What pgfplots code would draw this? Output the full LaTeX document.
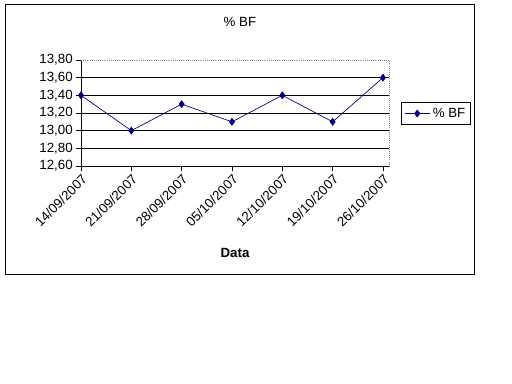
\documentclass[border=0pt]{standalone}
\usepackage{pgfplots}
\pgfplotsset{compat=1.18}
\usepackage{fontspec}
\setmainfont{Liberation Sans}
\definecolor{navyline}{RGB}{0,0,128}
\begin{document}
\begin{tikzpicture}
\path[use as bounding box] (0,0) rectangle (384pt,288pt);
\draw[black, line width=0.75pt] (3.75pt,81.75pt) rectangle (355.5pt,284.25pt);
\begin{axis}[
  at={(60.75pt,163.5pt)}, anchor=south west,
  scale only axis, width=231pt, height=79.5pt,
  xmin=0, xmax=6.12, ymin=12.6, ymax=13.8,
  axis x line*=bottom, axis y line*=left,
  axis line style={-, black, line width=0.6pt},
  xtick={0,1,2,3,4,5,6},
  xticklabels={14/09/2007,21/09/2007,28/09/2007,05/10/2007,12/10/2007,19/10/2007,26/10/2007},
  x tick label style={rotate=45, anchor=north east, font=\fontsize{10}{11}\selectfont, inner sep=1pt},
  ytick={12.6,12.8,13.0,13.2,13.4,13.6,13.8},
  y tick label style={font=\fontsize{10}{11}\selectfont, inner sep=2pt},
  yticklabel style={/pgf/number format/.cd, fixed, fixed zerofill, precision=2, use comma},
  /pgf/number format/assume math mode=true,
  tick align=outside, major tick length=4pt,
  tick style={black, line width=0.6pt},
  xtick pos=bottom, ytick pos=left,
  extra y ticks={12.8,13.0,13.2,13.4,13.6},
  extra y tick labels={},
  extra y tick style={grid=major, major tick length=0pt, major grid style={black, line width=0.6pt}},
  legend style={at={(1.04,0.495)}, anchor=west, draw=black, line width=0.6pt,
    font=\fontsize{10}{11}\selectfont, inner sep=2pt},
  legend image code/.code={\draw[mark repeat=2,mark phase=2] plot coordinates {(0cm,0cm)(0.33cm,0cm)(0.66cm,0cm)};},
  legend cell align=left,
  clip=false,
]
\draw[gray, densely dotted, line width=0.6pt] (rel axis cs:0,1) -- (rel axis cs:1,1) -- (rel axis cs:1,0);
\addplot[navyline, line width=0.5pt, mark=diamond*, mark size=2.6pt, mark options={fill=navyline, draw=navyline}]
  coordinates {(0,13.4) (1,13.0) (2,13.3) (3,13.1) (4,13.4) (5,13.1) (6,13.6)};
\addlegendentry{\% BF}
\end{axis}
\node[font=\fontsize{10}{11}\selectfont] at (180pt,271.5pt) {\% BF};
\node[font=\bfseries\fontsize{10}{11}\selectfont] at (176.25pt,98.25pt) {Data};
\end{tikzpicture}
\end{document}
